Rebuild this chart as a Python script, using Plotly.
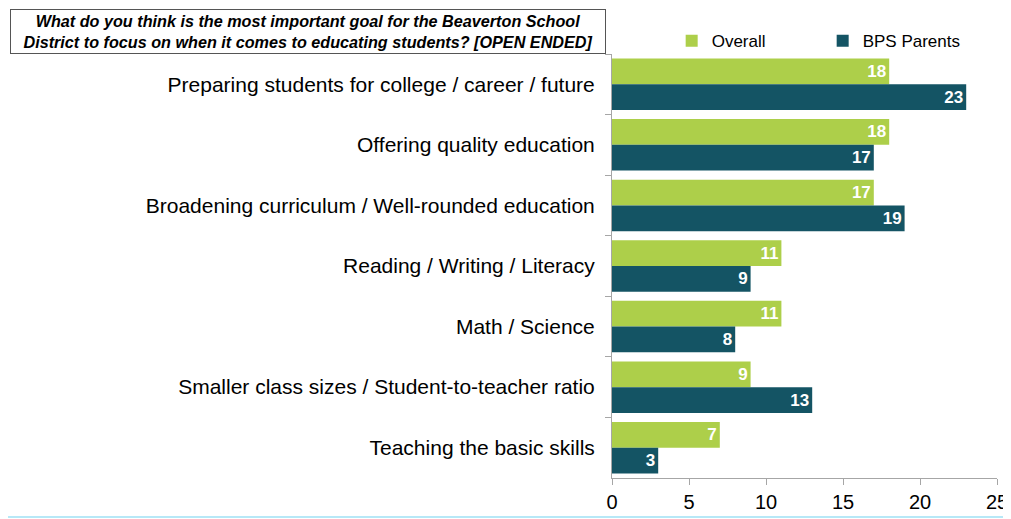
import plotly.graph_objects as go

categories = [
    "Preparing students for college / career / future",
    "Offering quality education",
    "Broadening curriculum / Well-rounded education",
    "Reading / Writing / Literacy",
    "Math / Science",
    "Smaller class sizes / Student-to-teacher ratio",
    "Teaching the basic skills",
]
overall = [18, 18, 17, 11, 11, 9, 7]
bps_parents = [23, 17, 19, 9, 8, 13, 3]
x_ticks = [0, 5, 10, 15, 20, 25]

label_font = dict(color="white", size=17, family="Liberation Sans, Arial")

fig = go.Figure()
fig.add_trace(go.Bar(
    y=categories, x=overall, name="Overall", orientation="h",
    marker=dict(color="#ADCF4A", line=dict(width=0)),
    text=overall, texttemplate="<b>%{text}</b>", textposition="inside",
    insidetextanchor="end", textfont=label_font,
))
fig.add_trace(go.Bar(
    y=categories, x=bps_parents, name="BPS Parents", orientation="h",
    marker=dict(color="#145464", line=dict(width=0)),
    text=bps_parents, texttemplate="<b>%{text}</b>", textposition="inside",
    insidetextanchor="end", textfont=label_font,
))

fig.update_layout(
    width=1003, height=511,
    margin=dict(l=604, r=14, t=46, b=41, autoexpand=False),
    barmode="group", bargap=0.15, bargroupgap=0.0,
    plot_bgcolor="white", paper_bgcolor="white",
    font=dict(family="Liberation Sans, Arial", color="black"),
    showlegend=True,
    legend=dict(orientation="h", x=0.155, y=0.988, xanchor="left", yanchor="bottom",
                font=dict(size=17), traceorder="normal", itemwidth=30,
                entrywidth=106, bgcolor="rgba(0,0,0,0)"),
    uniformtext=dict(mode="show", minsize=10),
)
fig.update_yaxes(
    autorange="reversed", categoryorder="array", categoryarray=categories,
    showline=True, linecolor="#A6A6A6", linewidth=1,
    ticks="outside", tickson="boundaries", tickcolor="#A6A6A6", ticklen=6,
    tickfont=dict(size=21, color="black"), ticklabelstandoff=12,
)
fig.update_xaxes(
    range=[0, 25], tickvals=x_ticks, showgrid=False, zeroline=False,
    showline=True, linecolor="#A6A6A6", linewidth=1,
    ticks="outside", tickcolor="#A6A6A6", ticklen=6,
    tickfont=dict(size=20, color="black"),
)

fig.add_annotation(
    xref="paper", yref="paper", x=-1.564, y=1.0 + 45.5 / 424, xanchor="left", yanchor="top",
    text="<b><i>What do you think is the most important goal for the Beaverton School<br>District to focus on when it comes to educating students? [OPEN ENDED]</i></b>",
    showarrow=False, align="center",
    font=dict(size=16.2, family="Liberation Sans, Arial", color="black"),
    bordercolor="#555555", borderwidth=1, borderpad=2, bgcolor="white",
    width=590,
)
fig.add_shape(type="line", xref="paper", yref="paper", x0=-1.6, x1=1.05,
              y0=-0.092, y1=-0.092, line=dict(color="#9FE0F5", width=1.5))

fig.write_html("out.html")
